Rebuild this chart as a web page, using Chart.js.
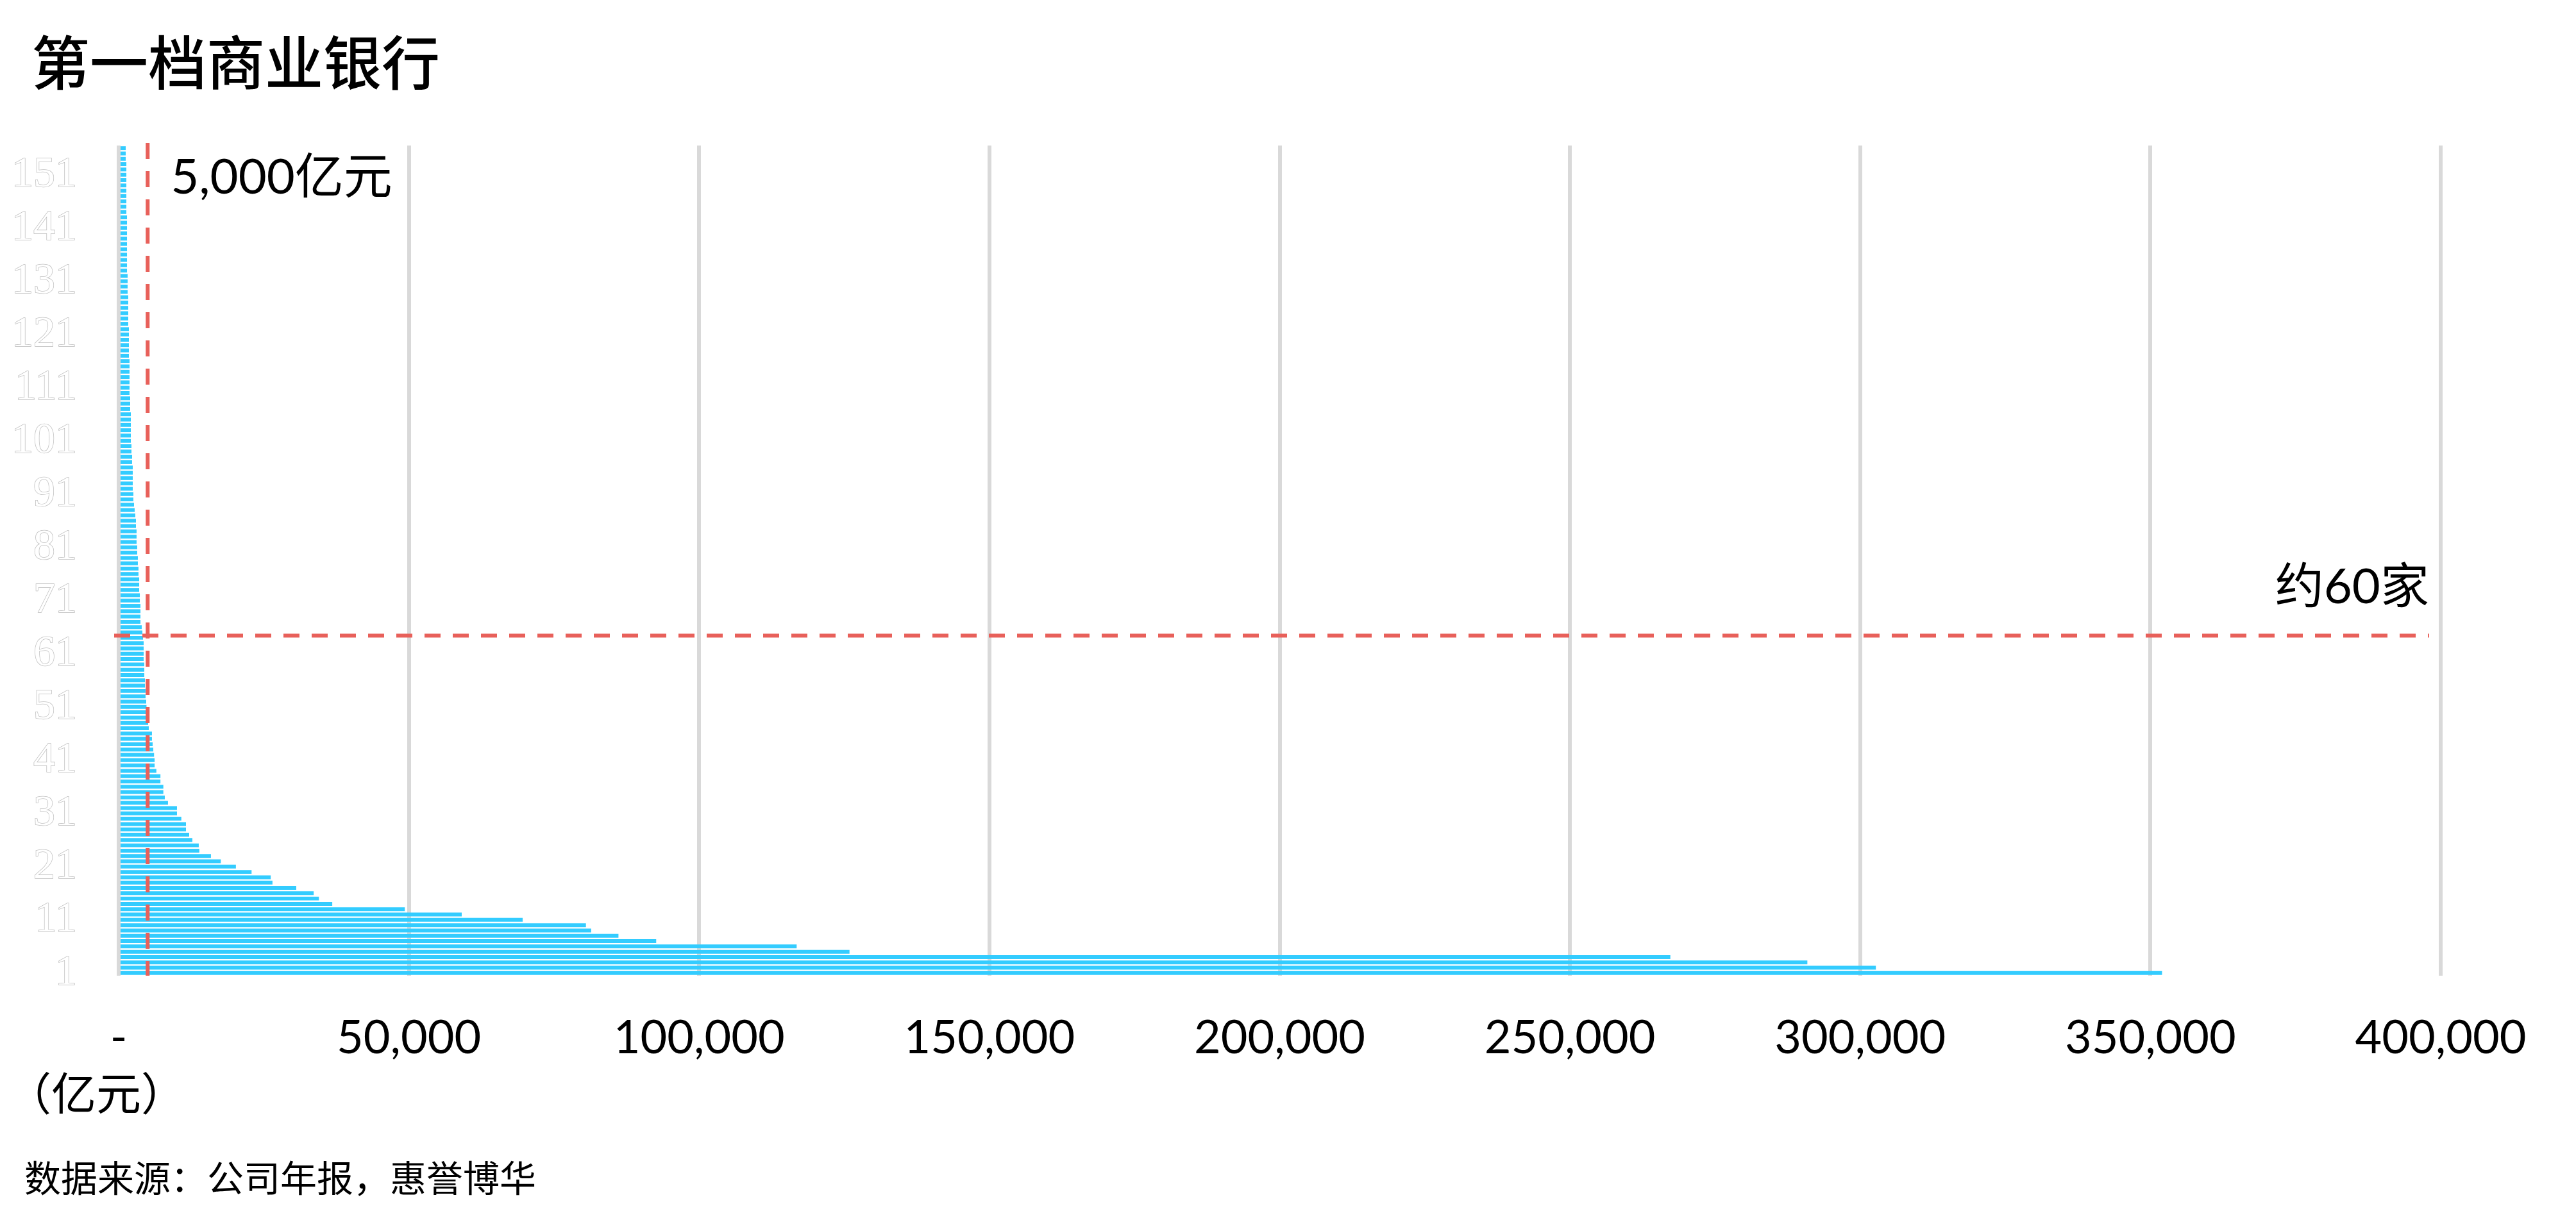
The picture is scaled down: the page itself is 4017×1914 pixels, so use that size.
<!DOCTYPE html>
<html>
<head>
<meta charset="utf-8">
<script src="https://cdn.jsdelivr.net/npm/chart.js@4.4.0/dist/chart.umd.min.js"></script>
<style>
  html, body { margin: 0; padding: 0; background: #ffffff; }
  #wrap { position: relative; width: 4017px; height: 1914px; background: #ffffff; }
  canvas { display: block; }
</style>
</head>
<body>
<div id="wrap"><canvas id="c" width="4017" height="1914"></canvas></div>
<script>
// ---------- texts ----------
const TITLE = '第一档商业银行';
const UNIT_LABEL = '（亿元）';
const SOURCE_NOTE = '数据来源：公司年报，惠誉博华';
const THRESHOLD_LABEL = '5,000亿元';
const COUNT_LABEL = '约60家';

// ---------- reference lines (data units) ----------
const THRESHOLD_VALUE = 5000;        // vertical dashed line, 亿元
const COUNT_CUTOFF_INDEX = 63.4;     // horizontal dashed line, between bank 64 and 65
const COUNT_LINE_END = 398000;       // right end of horizontal dashed line, 亿元

// ---------- categories: bank rank (1 = largest) ----------
const BANK_RANKS = [
  1,2,3,4,5,6,7,8,9,10,11,12,13,14,15,16,17,18,19,20,
  21,22,23,24,25,26,27,28,29,30,31,32,33,34,35,36,37,38,39,40,
  41,42,43,44,45,46,47,48,49,50,51,52,53,54,55,56,57,58,59,60,
  61,62,63,64,65,66,67,68,69,70,71,72,73,74,75,76,77,78,79,80,
  81,82,83,84,85,86,87,88,89,90,91,92,93,94,95,96,97,98,99,100,
  101,102,103,104,105,106,107,108,109,110,111,112,113,114,115,116,117,118,119,120,
  121,122,123,124,125,126,127,128,129,130,131,132,133,134,135,136,137,138,139,140,
  141,142,143,144,145,146,147,148,149,150,151,152,153,154,155,156
];

// ---------- series: total assets, 亿元 ----------
const TOTAL_ASSETS = [
  352000, 302700, 290900, 267300, 125900, 116800, 92600, 86100, 81400, 80500,
  69600, 59100, 49300, 36800, 34500, 33600, 30600, 26500, 26200, 22900,
  20200, 17600, 15900, 13900, 13800, 12700, 12150, 11600, 11600, 10800,
  10050, 10050, 8500, 7950, 7700, 7700, 7200, 7200, 6500, 6200,
  6200, 6100, 5970, 5860, 5740, 5740, 5190, 5080, 4950, 4880,
  4800, 4750, 4640, 4640, 4530, 4530, 4420, 4420, 4420, 4310,
  4310, 4310, 4310, 4200, 4090, 3980, 3760, 3760, 3760, 3760,
  3650, 3650, 3540, 3540, 3540, 3420, 3420, 3310, 3310, 3200,
  3200, 3090, 3090, 3090, 2980, 2980, 2870, 2760, 2650, 2540,
  2540, 2430, 2430, 2430, 2430, 2430, 2320, 2320, 2210, 2210,
  2100, 2100, 2100, 2100, 2100, 2100, 1990, 1990, 1990, 1880,
  1880, 1880, 1880, 1880, 1880, 1880, 1770, 1770, 1770, 1770,
  1770, 1770, 1660, 1660, 1660, 1660, 1660, 1660, 1550, 1550,
  1550, 1550, 1440, 1440, 1440, 1440, 1440, 1440, 1440, 1440,
  1440, 1440, 1440, 1330, 1330, 1330, 1330, 1330, 1330, 1330,
  1330, 1330, 1330, 1220, 1220, 1220
];

// ---------- tick labels ----------
const X_TICK_VALUES = [0, 50000, 100000, 150000, 200000, 250000, 300000, 350000, 400000];
const X_TICK_LABELS = ['-', '50,000', '100,000', '150,000', '200,000', '250,000', '300,000', '350,000', '400,000'];
const Y_LABEL_EVERY = 10;

// ---------- styles ----------
const BAR_COLOR = '#33CCFF';
const GRID_COLOR = '#D9D9D9';
const RED = '#E8605A';
const CJK = '"Noto Sans CJK SC"';

const overlayPlugin = {
  id: 'overlay',
  afterDatasetsDraw(chart) {
    const ctx = chart.ctx, xs = chart.scales.x, ys = chart.scales.y, ca = chart.chartArea;
    ctx.save();
    ctx.strokeStyle = RED;
    ctx.lineWidth = 6;
    ctx.setLineDash([25, 19]);
    const vx = xs.getPixelForValue(THRESHOLD_VALUE);
    ctx.beginPath();
    ctx.moveTo(vx, ca.top - 4);
    ctx.lineTo(vx, ca.bottom);
    ctx.stroke();
    const hy = ys.getPixelForValue(COUNT_CUTOFF_INDEX);
    ctx.beginPath();
    ctx.moveTo(ca.left - 7, hy);
    ctx.lineTo(xs.getPixelForValue(COUNT_LINE_END), hy);
    ctx.stroke();
    ctx.restore();
  },
  afterDraw(chart) {
    const ctx = chart.ctx, xs = chart.scales.x;
    ctx.save();
    ctx.fillStyle = '#000000';
    // title
    ctx.font = '500 91px ' + CJK;
    ctx.textAlign = 'left';
    ctx.textBaseline = 'middle';
    ctx.fillText(TITLE, 49, 97);
    // threshold label
    const vx = xs.getPixelForValue(THRESHOLD_VALUE);
    ctx.font = '76px Lato, ' + CJK;
    ctx.textBaseline = 'alphabetic';
    ctx.fillText(THRESHOLD_LABEL, vx + 36, 302);
    // count label
    ctx.textAlign = 'right';
    ctx.fillText(COUNT_LABEL, xs.getPixelForValue(COUNT_LINE_END), 941);
    // unit
    ctx.textAlign = 'left';
    ctx.textBaseline = 'middle';
    ctx.font = '70px "Noto Sans CJK TC"';
    ctx.fillText(UNIT_LABEL, 10, 1705);
    // source
    ctx.font = '57px ' + CJK;
    ctx.fillText(SOURCE_NOTE, 38, 1837);
    ctx.restore();
  }
};

new Chart(document.getElementById('c'), {
  type: 'bar',
  data: {
    labels: BANK_RANKS.map(String),
    datasets: [{
      data: TOTAL_ASSETS,
      backgroundColor: BAR_COLOR,
      borderWidth: 0,
      barPercentage: 0.72,
      categoryPercentage: 1
    }]
  },
  options: {
    indexAxis: 'y',
    responsive: false,
    animation: false,
    devicePixelRatio: 1,
    layout: { padding: { top: 227, left: 0, right: 211, bottom: 0 } },
    plugins: { legend: { display: false }, tooltip: { enabled: false }, title: { display: false } },
    scales: {
      x: {
        type: 'linear',
        position: 'bottom',
        min: 0,
        max: 400000,
        afterBuildTicks: (s) => { s.ticks = X_TICK_VALUES.map(v => ({ value: v })); },
        afterFit: (s) => { s.height = 392; },
        grid: { color: GRID_COLOR, lineWidth: 6, drawTicks: false },
        border: { display: false },
        ticks: {
          autoSkip: false,
          maxRotation: 0,
          padding: 55,
          color: '#000000',
          font: { family: 'Lato', size: 72 },
          callback: (v) => X_TICK_LABELS[X_TICK_VALUES.indexOf(v)]
        }
      },
      y: {
        type: 'category',
        reverse: true,
        afterFit: (s) => { s.width = 185; },
        grid: { display: false, drawTicks: false },
        border: { display: false },
        ticks: {
          autoSkip: false,
          padding: 65,
          color: '#ffffff',
          textStrokeColor: '#bdbdbd',
          textStrokeWidth: 1.5,
          font: { family: 'Liberation Serif', size: 68 },
          callback: (v, i) => (i % Y_LABEL_EVERY === 0 ? String(BANK_RANKS[i]) : '')
        }
      }
    }
  },
  plugins: [overlayPlugin]
});
</script>
</body>
</html>
